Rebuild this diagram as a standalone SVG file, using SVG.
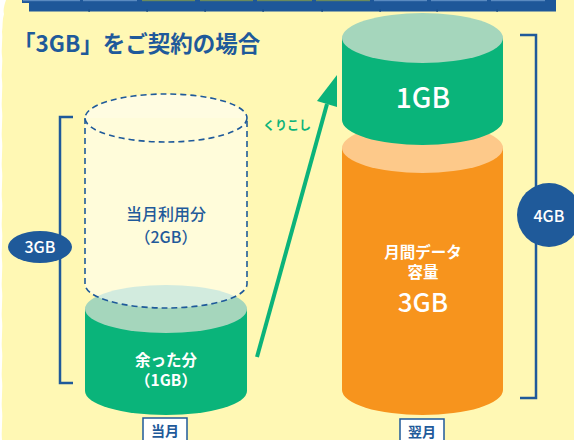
<svg xmlns="http://www.w3.org/2000/svg" width="574" height="440" viewBox="0 0 574 440">
<style>
.jp{font-family:"Noto Sans CJK JP","Noto Sans",sans-serif;}
.wt{fill:#ffffff;text-anchor:middle;}
.bl{fill:#1f5a9a;text-anchor:middle;}
.br{fill:none;stroke:#1f5a9a;stroke-width:2.5;}
.dash{fill:none;stroke:#1f5a9a;stroke-width:1.6;stroke-dasharray:6 4;}
.lab{fill:#ffffff;stroke:#1f5a9a;stroke-width:1.5;}
</style>
<rect x="0" y="0" width="574" height="440" fill="#fff8b4"/>
<path d="M0,0 H6 C4,6 3,10 4,14 C2,20 3,26 2,32 C3,40 1,48 2,56 C3,64 1,72 2,80 C3,90 1,100 2,110 C3,120 1,130 2,140 C3,150 1,160 2,170 C3,180 1,190 2,200 C3,210 1,220 2,230 C3,240 1,250 2,260 C3,270 1,280 2,290 C3,300 1,310 2,320 C3,330 1,340 2,350 C3,360 1,370 2,380 C3,390 1,400 2,410 C3,420 1,430 2,440 H0 Z" fill="#ffffff"/>
<g id="top-bar">
<rect x="22" y="0" width="534" height="3" fill="#1e5799"/>
<rect x="29" y="0" width="527" height="11.5" fill="#1e5799"/>
<g fill="#5a8ac0">
<rect x="23" y="0" width="57" height="1.2"/><rect x="83" y="0" width="54" height="1.2"/>
<rect x="374" y="0" width="53" height="1.2"/><rect x="431" y="0" width="56" height="1.2"/><rect x="491" y="0" width="54" height="1.2"/>
</g>
<g fill="#6a8a5e">
<rect x="142" y="0" width="53" height="1.2"/><rect x="200" y="0" width="53" height="1.2"/><rect x="257" y="0" width="55" height="1.2"/><rect x="316" y="0" width="54" height="1.2"/>
</g>
<g fill="#174a82">
<rect x="88.5" y="9.5" width="1.2" height="2.5"/><rect x="146.5" y="9.5" width="1.2" height="2.5"/><rect x="204.5" y="9.5" width="1.2" height="2.5"/><rect x="262.5" y="9.5" width="1.2" height="2.5"/><rect x="321.5" y="9.5" width="1.2" height="2.5"/><rect x="379.5" y="9.5" width="1.2" height="2.5"/><rect x="436.5" y="9.5" width="1.2" height="2.5"/><rect x="496.5" y="9.5" width="1.2" height="2.5"/>
</g>
</g>
<g id="title">
<text class="jp" x="13" y="52" font-size="22.5" font-weight="700" fill="#1f5a9a">「3GB」をご契約の場合</text>
</g>
<g id="remaining">
<path d="M85,309 V391 A81,24 0 0 0 247,391 V309 Z" fill="#0ab47a"/>
<ellipse cx="166" cy="309" rx="81" ry="24" fill="#a5d6bc"/>
<text class="jp wt" x="166" y="366" font-size="15.5" font-weight="700">余った分</text>
<text class="jp wt" x="166" y="386" font-size="15.5" font-weight="700">（1GB）</text>
</g>
<g id="used">
<path d="M85,118 V284 A81,24 0 0 0 247,284 V118 Z" fill="#ffffff" fill-opacity="0.5"/>
<path d="M85,118 A81,24 0 0 1 247,118 Z" fill="#ffffff" fill-opacity="0.6"/>
<ellipse class="dash" cx="166" cy="118" rx="81" ry="24"/>
<path class="dash" d="M85,118 V284 A81,24 0 0 0 247,284 V118"/>
<text class="jp bl" x="166" y="220" font-size="16" font-weight="500">当月利用分</text>
<text class="jp bl" x="166" y="243" font-size="16" font-weight="500">（2GB）</text>
</g>
<g id="bracket-3gb">
<polyline class="br" points="73,117 60,117 60,383 73,383"/>
<ellipse cx="40" cy="247" rx="32" ry="16" fill="#1f5a9a"/>
<text class="jp wt" x="40" y="253" font-size="16" font-weight="500">3GB</text>
</g>
<g id="monthly">
<path d="M342,148 V390 A80.5,25 0 0 0 503,390 V148 Z" fill="#f7941d"/>
<ellipse cx="422.5" cy="148" rx="80.5" ry="25" fill="#fdc98a"/>
<text class="jp wt" x="423" y="258" font-size="15.5" font-weight="700">月間データ</text>
<text class="jp wt" x="423" y="278" font-size="15.5" font-weight="700">容量</text>
<text class="jp wt" x="423" y="312" font-size="26" font-weight="500">3GB</text>
</g>
<g id="carried">
<path d="M342,38 V120 A80.5,25 0 0 0 503,120 V38 Z" fill="#0ab47a"/>
<ellipse cx="422.5" cy="38" rx="80.5" ry="25" fill="#a5d6bc"/>
<text class="jp wt" x="423" y="108" font-size="28" font-weight="500">1GB</text>
</g>
<g id="bracket-4gb">
<polyline class="br" points="520,35 536,35 536,398 520,398"/>
<circle cx="549" cy="215" r="32" fill="#1f5a9a"/>
<text class="jp wt" x="549" y="222" font-size="16" font-weight="500">4GB</text>
</g>
<g id="connectors">
<line x1="257" y1="357" x2="327" y2="104" stroke="#0bb37a" stroke-width="4"/>
<polygon points="337,75 317,101 337,107" fill="#0bb37a"/>
<text class="jp" x="263" y="130" font-size="12" font-weight="700" fill="#0bb37a">くりこし</text>
</g>
<g id="label-this-month">
<rect class="lab" x="143" y="418" width="44" height="30"/>
<text class="jp bl" x="165" y="436" font-size="14" font-weight="700">当月</text>
</g>
<g id="label-next-month">
<rect class="lab" x="400" y="419" width="44" height="30"/>
<text class="jp bl" x="422" y="437" font-size="14" font-weight="700">翌月</text>
</g>
</svg>
